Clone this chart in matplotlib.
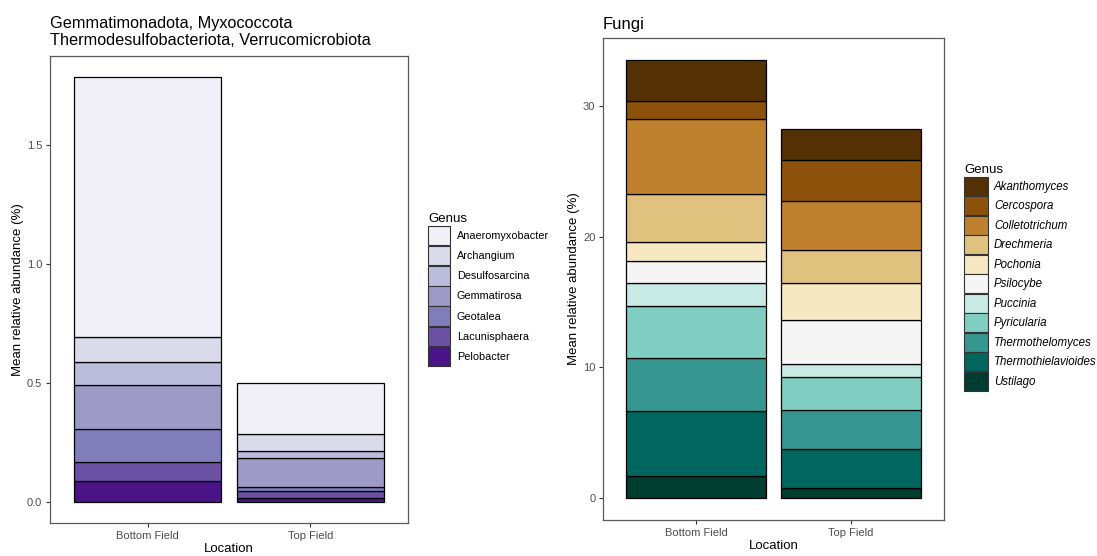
import matplotlib
matplotlib.use("Agg")
import matplotlib.pyplot as plt
from matplotlib.patches import Patch
import numpy as np

plt.rcParams['font.family'] = ['Liberation Sans', 'DejaVu Sans']

locations = ["Bottom Field", "Top Field"]

# bacteria, listed bottom of stack first
bact_genus = ["Pelobacter", "Lacunisphaera", "Geotalea", "Gemmatirosa",
              "Desulfosarcina", "Archangium", "Anaeromyxobacter"]
bact_bottom = [0.087, 0.079, 0.141, 0.185, 0.096, 0.106, 1.089]
bact_top = [0.014, 0.031, 0.018, 0.119, 0.033, 0.069, 0.216]
bact_colors = ["#4a1486", "#6a51a3", "#807dba", "#9e9ac8",
               "#bcbddc", "#dadaeb", "#f2f0f7"]

# fungi, listed bottom of stack first
fungi_genus = ["Ustilago", "Thermothielavioides", "Thermothelomyces", "Pyricularia",
               "Puccinia", "Psilocybe", "Pochonia", "Drechmeria",
               "Colletotrichum", "Cercospora", "Akanthomyces"]
fungi_bottom = [1.66, 4.97, 4.08, 3.96, 1.83, 1.66, 1.45, 3.70, 5.74, 1.35, 3.14]
fungi_top = [0.74, 2.98, 2.99, 2.55, 1.04, 3.34, 2.86, 2.50, 3.72, 3.16, 2.35]
fungi_colors = ["#003c30", "#01665e", "#35978f", "#80cdc1", "#c7eae5", "#f5f5f5",
                "#f6e8c3", "#dfc27d", "#bf812d", "#8c510a", "#543005"]

W, H = 1097, 556
fig = plt.figure(figsize=(W / 100, H / 100), dpi=100)


def fx(px):
    return px / W


def fy(py):
    return 1 - py / H


def stacked(ax, vals_a, vals_b, colors):
    x = np.arange(1, 3)
    base = np.zeros(2)
    for va, vb, c in zip(vals_a, vals_b, colors):
        v = np.array([va, vb])
        ax.bar(x, v, bottom=base, width=0.9, color=c, edgecolor="black",
               linewidth=0.9)
        base += v
    total = base.max()
    ax.set_xlim(0.4, 2.6)
    ax.set_ylim(-0.05 * total, total * 1.05)
    ax.set_xticks(x)
    ax.set_xticklabels(locations)
    for s in ax.spines.values():
        s.set_color("#5a5a5a")
        s.set_linewidth(0.9)
    ax.tick_params(colors="#333333", labelcolor="#4d4d4d", labelsize=8,
                   length=3, width=0.8, pad=2.5)
    ax.set_xlabel("Location", fontsize=9.5, labelpad=1.5)
    ax.set_ylabel("Mean relative abundance (%)", fontsize=9.5, labelpad=2)


ax1 = fig.add_axes([fx(50), fy(523), fx(358), (523 - 56) / H])
stacked(ax1, bact_bottom, bact_top, bact_colors)
ax1.set_yticks([0.0, 0.5, 1.0, 1.5])
ax1.set_yticklabels(["0.0", "0.5", "1.0", "1.5"])

ax2 = fig.add_axes([fx(603), fy(520), fx(341), (520 - 38) / H])
stacked(ax2, fungi_bottom, fungi_top, fungi_colors)
ax2.set_yticks([0, 10, 20, 30])

fig.text(fx(50), fy(16), "Gemmatimonadota, Myxococcota\nThermodesulfobacteriota, Verrucomicrobiota",
         ha="left", va="top", fontsize=11.7, linespacing=1.15)
fig.text(fx(603), fy(17), "Fungi", ha="left", va="top", fontsize=12)

# legends, top entry first as in the stack order
h1 = [Patch(facecolor=c, edgecolor="#333333", linewidth=0.8) for c in bact_colors[::-1]]
leg1 = fig.legend(h1, bact_genus[::-1], title="Genus", loc="upper left",
                  bbox_to_anchor=(fx(428), fy(213)), frameon=False,
                  fontsize=7.8, title_fontsize=9.5, handlelength=2.05, handleheight=2.4,
                  labelspacing=0.06, handletextpad=0.6, borderpad=0, borderaxespad=0,
                  alignment="left")

h2 = [Patch(facecolor=c, edgecolor="#333333", linewidth=0.8) for c in fungi_colors[::-1]]
leg2 = fig.legend(h2, fungi_genus[::-1], title="Genus", loc="upper left",
                  bbox_to_anchor=(fx(964), fy(164)), frameon=False,
                  prop={"size": 8.3, "style": "italic"}, title_fontsize=9.5,
                  handlelength=2.1, handleheight=2.15,
                  labelspacing=0.05, handletextpad=0.5, borderpad=0, borderaxespad=0,
                  alignment="left")

fig.savefig("out.png", dpi=100)
